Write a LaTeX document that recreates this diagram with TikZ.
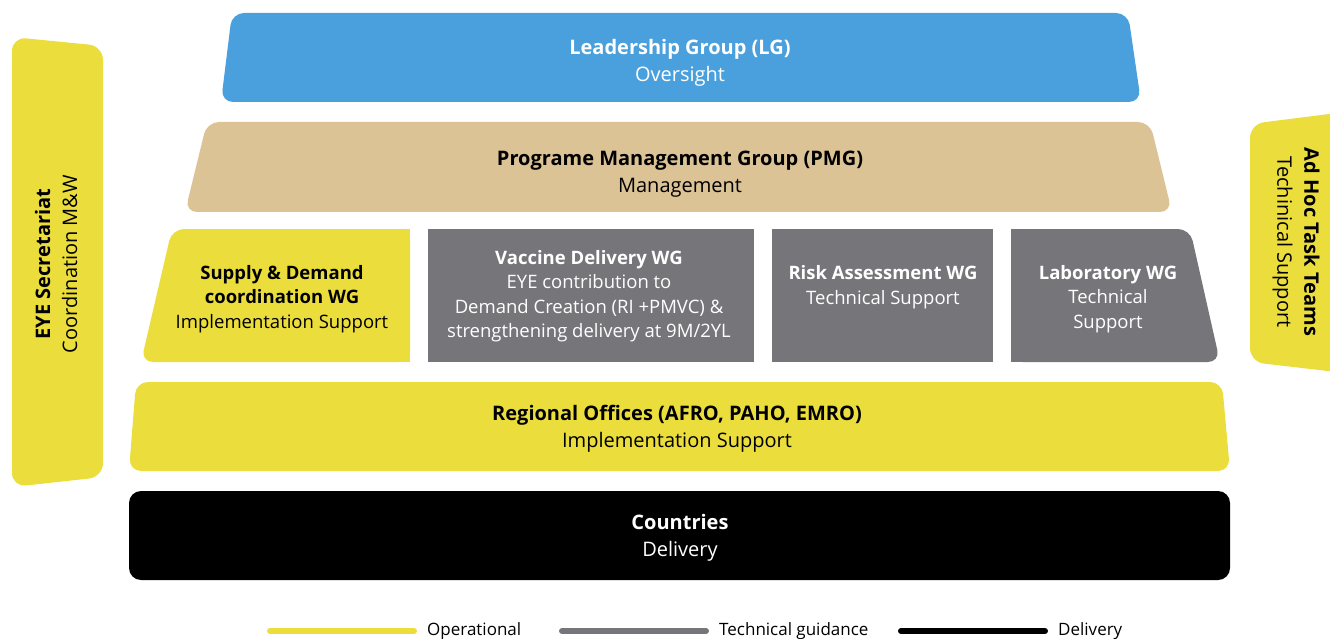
\documentclass[tikz,border=0pt]{standalone}
\usepackage{fontspec}
\setmainfont{Open Sans}
\usepackage{tikz}
\usetikzlibrary{positioning}

\definecolor{lgblue}{RGB}{74,160,220}
\definecolor{pmgtan}{RGB}{220,195,149}
\definecolor{opyellow}{RGB}{235,222,60}
\definecolor{tgray}{RGB}{118,117,122}

\begin{document}
\begin{tikzpicture}[
            x=1pt,y=-1pt,
            every node/.style={font=\fontsize{17}{24.5}\selectfont},
            label/.style={align=center,inner sep=0pt},
            biglabel/.style={label,font=\fontsize{20}{27}\selectfont},
            wglabel/.style={label,font=\fontsize{18.5}{24.5}\selectfont},
            darkbig/.style={biglabel,text=white},
            darkwg/.style={wglabel,text=white},
            block/.style={rounded corners=12pt},
            legendline/.style={line width=6pt,line cap=round}
        ]
        \useasboundingbox (0,0) rectangle (1330,639);

        % Draw side bars %
        \fill[opyellow,rounded corners=14pt] (12,37) -- (103,46) -- (103,477) -- (12,487) -- cycle;
        \fill[opyellow,rounded corners=14pt] (1250,124) -- (1345,112) -- (1345,373) -- (1250,362) -- cycle;
        \node[biglabel,rotate=90] (eye) at (56,264) {\textbf{EYE Secretariat}\\Coordination M\&W};
        \node[biglabel,rotate=-90] (adhoc) at (1296,242) {\textbf{Ad Hoc Task Teams}\\Techinical Support};

        % Draw layers %
        \fill[lgblue,block] (232,13) -- (1128,13) -- (1141,102) -- (221,102) -- cycle;
        \node[darkbig] (lg) at (680,63) {\textbf{Leadership Group (LG)}\\Oversight};

        \fill[pmgtan,block] (207,122) -- (1150,122) -- (1172,212) -- (185,212) -- cycle;
        \node[biglabel] (pmg) at (680,174) {\textbf{Programe Management Group (PMG)}\\Management};

        % Draw working groups %
        \fill[opyellow,block] (410,295) -- (410,229) -- (172,229) -- (141,362) -- (410,362) -- cycle;
        \fill[opyellow] (390,229) rectangle (410,362);
        \node[wglabel] (supply) at (282,299) {\textbf{Supply \& Demand}\\\textbf{coordination WG}\\Implementation Support};

        \fill[tgray] (428,229) rectangle (754,362);
        \node[darkwg] (vaccine) at (589,296) {\textbf{Vaccine Delivery WG}\\EYE contribution to\\Demand Creation (RI +PMVC) \&\\strengthening delivery at 9M/2YL};

        \fill[tgray] (772,229) rectangle (993,362);
        \node[darkwg] (risk) at (883,287) {\textbf{Risk Assessment WG}\\Technical Support};

        \fill[tgray,block] (1011,295) -- (1011,229) -- (1190,229) -- (1220,362) -- (1011,362) -- cycle;
        \fill[tgray] (1011,229) rectangle (1031,362);
        \node[darkwg] (lab) at (1108,299) {\textbf{Laboratory WG}\\Technical\\Support};

        % Draw regions and countries %
        \fill[opyellow,block] (136,382) -- (1222,382) -- (1230,471) -- (129,471) -- cycle;
        \node[biglabel] (regional) at (677,429) {\textbf{Regional Offices (AFRO, PAHO, EMRO)}\\Implementation Support};

        \fill[black,block] (129,491) rectangle (1230,580);
        \node[darkbig] (countries) at (680,538) {\textbf{Countries}\\Delivery};

        % Legend %
        \coordinate (op1) at (270,631);
        \coordinate (op2) at (414,631);
        \coordinate (tg1) at (562,631);
        \coordinate (tg2) at (706,631);
        \coordinate (dl1) at (901,631);
        \coordinate (dl2) at (1045,631);
        \draw[legendline,opyellow] (op1) -- (op2);
        \draw[legendline,tgray] (tg1) -- (tg2);
        \draw[legendline,black] (dl1) -- (dl2);
        \node[label,anchor=west,right=13pt of op2] (optext) {Operational};
        \node[label,anchor=west,right=13pt of tg2] (tgtext) {Technical guidance};
        \node[label,anchor=west,right=13pt of dl2] (dltext) {Delivery};
        \end{tikzpicture}
\end{document}
